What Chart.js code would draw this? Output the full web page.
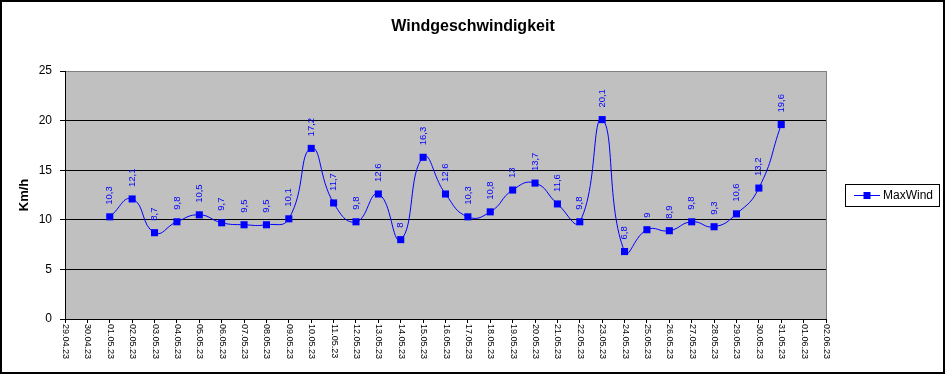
<!DOCTYPE html>
<html>
<head>
<meta charset="utf-8">
<script src="https://cdn.jsdelivr.net/npm/chart.js@4.4.1/dist/chart.umd.min.js"></script>
<style>
  html, body { margin: 0; padding: 0; background: #fff; }
  #wrap { position: relative; width: 946px; height: 375px; }
  #frame { position: absolute; left: 0; top: 0; width: 945px; height: 374px; box-sizing: border-box; border: 2px solid #000; pointer-events: none; }
</style>
</head>
<body>
<div id="wrap">
  <canvas id="c" width="946" height="375"></canvas>
  <div id="frame"></div>
</div>
<script>
const titleText = 'Windgeschwindigkeit';
const yAxisTitle = 'Km/h';
const seriesName = 'MaxWind';
const dateLabels = ['29.04.23','30.04.23','01.05.23','02.05.23','03.05.23','04.05.23','05.05.23','06.05.23','07.05.23','08.05.23','09.05.23','10.05.23','11.05.23','12.05.23','13.05.23','14.05.23','15.05.23','16.05.23','17.05.23','18.05.23','19.05.23','20.05.23','21.05.23','22.05.23','23.05.23','24.05.23','25.05.23','26.05.23','27.05.23','28.05.23','29.05.23','30.05.23','31.05.23','01.06.23','02.06.23'];
const maxWind = [null,null,10.3,12.1,8.7,9.8,10.5,9.7,9.5,9.5,10.1,17.2,11.7,9.8,12.6,8,16.3,12.6,10.3,10.8,13,13.7,11.6,9.8,20.1,6.8,9,8.9,9.8,9.3,10.6,13.2,19.6,null,null];
const yTicks = [0,5,10,15,20,25];

const FONT = '"Liberation Sans", Arial, sans-serif';
Chart.defaults.font.family = FONT;
Chart.defaults.color = '#000';

const plotBg = {
  id: 'plotBg',
  beforeDraw(chart) {
    const {ctx, chartArea: a} = chart;
    ctx.save();
    ctx.fillStyle = '#fff';
    ctx.fillRect(0, 0, chart.width, chart.height);
    ctx.fillStyle = '#C0C0C0';
    ctx.fillRect(a.left, a.top, a.right - a.left, a.bottom - a.top);
    // title
    ctx.fillStyle = '#000';
    ctx.font = 'bold 16px ' + FONT;
    ctx.textAlign = 'center';
    ctx.textBaseline = 'alphabetic';
    ctx.fillText(titleText, 473, 31);
    ctx.restore();
  },
  afterDraw(chart) {
    const {ctx, chartArea: a} = chart;
    const xs = chart.scales.x;
    ctx.save();
    // right border of plot area (gray)
    ctx.strokeStyle = '#808080';
    ctx.lineWidth = 1;
    ctx.beginPath();
    ctx.moveTo(Math.round(a.right) + 0.5, a.top);
    ctx.lineTo(Math.round(a.right) + 0.5, a.bottom);
    ctx.stroke();
    // x tick labels, rotated reading top to bottom
    ctx.fillStyle = '#000';
    ctx.font = '9px ' + FONT;
    ctx.textAlign = 'left';
    ctx.textBaseline = 'middle';
    dateLabels.forEach((lab, i) => {
      const x = xs.getPixelForTick(i);
      ctx.save();
      ctx.translate(x + 0.5, a.bottom + 5);
      ctx.rotate(Math.PI / 2);
      ctx.fillText(lab, 0, 0);
      ctx.restore();
    });
    // data labels
    const meta = chart.getDatasetMeta(0);
    ctx.fillStyle = '#0000FF';
    ctx.font = '9.5px ' + FONT;
    meta.data.forEach((pt, i) => {
      const v = maxWind[i];
      if (v === null || v === undefined) return;
      ctx.save();
      ctx.translate(pt.x, pt.y - 12);
      ctx.rotate(-Math.PI / 2);
      ctx.textAlign = 'left';
      ctx.textBaseline = 'middle';
      ctx.fillText(String(v).replace('.', ','), 0, 0);
      ctx.restore();
    });
    // legend
    const lx = 845, ly = 184, lw = 94, lh = 22;
    ctx.fillStyle = '#fff';
    ctx.fillRect(lx, ly, lw, lh);
    ctx.strokeStyle = '#000';
    ctx.lineWidth = 1;
    ctx.strokeRect(lx + 0.5, ly + 0.5, lw, lh);
    const cy = ly + lh / 2 + 0.5;
    ctx.strokeStyle = '#0000FF';
    ctx.beginPath();
    ctx.moveTo(854, cy);
    ctx.lineTo(880, cy);
    ctx.stroke();
    ctx.fillStyle = '#0000FF';
    ctx.fillRect(863.5, cy - 3.5, 7, 7);
    ctx.fillStyle = '#000';
    ctx.font = '12px ' + FONT;
    ctx.textAlign = 'left';
    ctx.textBaseline = 'middle';
    ctx.fillText(seriesName, 883, cy);
    ctx.restore();
  }
};

new Chart(document.getElementById('c'), {
  type: 'line',
  data: {
    labels: dateLabels,
    datasets: [{
      label: seriesName,
      data: maxWind,
      borderColor: '#0000FF',
      backgroundColor: '#0000FF',
      borderWidth: 1,
      tension: 0.5,
      pointStyle: 'rect',
      pointRadius: 5,
      pointBorderWidth: 0,
      pointBackgroundColor: '#0000FF',
      fill: false
    }]
  },
  options: {
    responsive: false,
    animation: false,
    layout: { padding: { left: 0, right: 120, top: 71, bottom: 0 } },
    plugins: {
      legend: { display: false },
      tooltip: { enabled: false },
      title: { display: false }
    },
    scales: {
      x: {
        offset: false,
        grid: { display: true, drawOnChartArea: false, drawTicks: true, tickLength: 4, tickColor: '#000' },
        border: { display: true, color: '#000', width: 1 },
        ticks: { display: false, autoSkip: false },
        afterFit(scale) { scale.height = 56; }
      },
      y: {
        min: 0, max: 25,
        afterBuildTicks(scale) { scale.ticks = yTicks.map(v => ({ value: v })); },
        grid: {
          color: (c) => (c.tick && c.tick.value === 25) ? '#808080' : '#000',
          tickColor: '#000',
          tickLength: 5,
          drawTicks: true
        },
        border: { display: true, color: '#000', width: 1 },
        ticks: { font: { size: 12, family: FONT }, color: '#000', padding: 8 },
        title: {
          display: true,
          text: yAxisTitle,
          font: { size: 13, weight: 'bold', family: FONT },
          color: '#000',
          padding: { top: 17, bottom: 0 }
        },
        afterFit(scale) { scale.width = 65; }
      }
    }
  },
  plugins: [plotBg]
});
</script>
</body>
</html>
